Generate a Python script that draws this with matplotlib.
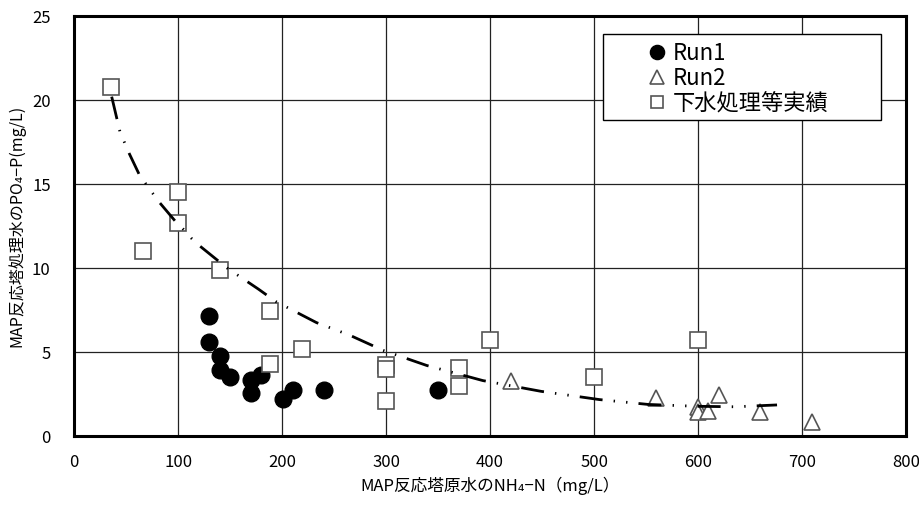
import matplotlib
matplotlib.use("Agg")
import matplotlib.pyplot as plt
from matplotlib.patches import Rectangle

plt.rcParams['font.family'] = ['Noto Sans CJK JP', 'DejaVu Sans']

# Run1 (black circles)
run1_x = [130, 130, 140, 140, 150, 170, 170, 180, 201, 210, 240, 350]
run1_y = [7.15, 5.6, 4.75, 3.9, 3.5, 3.35, 2.55, 3.65, 2.2, 2.75, 2.75, 2.75]

# Run2 (open triangles)
run2_x = [420, 560, 600, 600, 610, 620, 660, 710]
run2_y = [3.3, 2.25, 1.7, 1.4, 1.5, 2.45, 1.4, 0.85]

# 下水処理等実績 (open squares)
sq_x = [35, 66, 100, 100, 140, 188, 188, 219, 300, 300, 300, 370, 370, 400, 500, 600]
sq_y = [20.8, 11.0, 14.5, 12.7, 9.9, 7.45, 4.3, 5.15, 4.2, 4.0, 2.1, 4.05, 3.0, 5.7, 3.5, 5.7]

# trend curve
trend_x = [36, 44, 53, 63, 69, 76, 82, 97, 105, 113, 121, 147, 177, 194, 233, 265,
           297, 339, 393, 449, 505, 552, 598, 636, 676]
trend_y = [20.2, 18.1, 16.8, 15.5, 15.0, 14.4, 13.9, 12.8, 12.3, 11.75, 11.3, 10.0,
           8.75, 8.0, 6.75, 6.0, 5.1, 4.2, 3.3, 2.66, 2.17, 1.88, 1.77, 1.74, 1.85]

fig = plt.figure(figsize=(9.19, 5.05), dpi=100)
ax = fig.add_axes([0.0808, 0.1366, 0.905, 0.8317])

ax.plot(run1_x, run1_y, 'o', color='black', markersize=12, label='Run1', zorder=3)
ax.plot(run2_x, run2_y, '^', markerfacecolor='white', markeredgecolor='#555555',
        markeredgewidth=1.2, markersize=11.5, label='Run2', zorder=4)
ax.plot(sq_x, sq_y, 's', markerfacecolor='white', markeredgecolor='#555555',
        markeredgewidth=1.2, markersize=11, label='下水処理等実績', zorder=5)
ax.plot(trend_x, trend_y, color='black', linewidth=2.0,
        linestyle=(0, (8.3, 4, 0.5, 4, 0.5, 4)), zorder=6)

ax.set_xlim(0, 800)
ax.set_ylim(0, 25)
ax.set_xticks(range(0, 801, 100))
ax.set_yticks(range(0, 26, 5))
ax.grid(True, color='#222222', linewidth=0.9)
ax.set_axisbelow(True)
for s in ax.spines.values():
    s.set_linewidth(2.2)
    s.set_color('black')
ax.tick_params(length=0, labelsize=12, pad=13)
ax.tick_params(axis='y', pad=17)

ax.set_xlabel('MAP反応塔原水のNH₄−N（mg/L）', fontsize=12, labelpad=4)
ax.set_ylabel('MAP反応塔処理水のPO₄−P(mg/L)', fontsize=11.5, labelpad=5)

# legend box drawn separately, legend entries indented inside it
ax.add_patch(Rectangle((0.636, 0.753), 0.334, 0.203, transform=ax.transAxes,
                       facecolor='white', edgecolor='black', linewidth=1.0, zorder=7))
leg = ax.legend(loc='upper left', bbox_to_anchor=(0.683, 0.955), fontsize=16,
                frameon=False, markerscale=0.85, handlelength=0.75,
                handletextpad=0.3, borderpad=0.3, labelspacing=0.1,
                borderaxespad=0)
leg.set_zorder(8)

fig.savefig('out.png', dpi=100)
